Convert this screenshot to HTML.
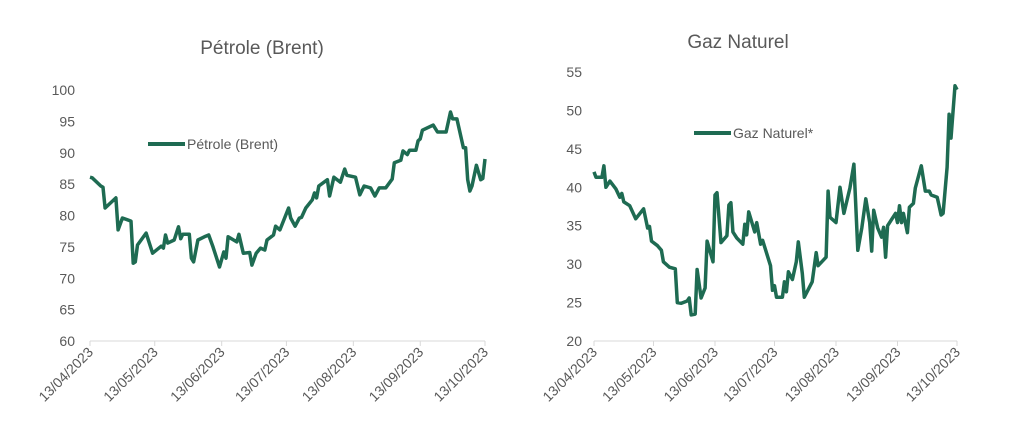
<!DOCTYPE html>
<html><head><meta charset="utf-8"><style>
body{margin:0;background:#fff;width:1018px;height:439px;overflow:hidden;font-family:"Liberation Sans",sans-serif}
svg text{font-family:"Liberation Sans",sans-serif;fill:#595959}
</style></head><body>
<svg id="c" width="1018" height="439"></svg>
<script>
const tickDays=[0,30,61,91,122,153,183];
const tickLabels=["13/04/2023","13/05/2023","13/06/2023","13/07/2023","13/08/2023","13/09/2023","13/10/2023"];
const brentDays=[0,1,5,6,7,12,13,15,19,20,21,22,26,29,33,34,35,36,39,41,42,43,46,47,48,50,53,55,57,60,62,63,64,68,69,71,74,75,77,79,81,82,85,86,88,92,93,95,97,98,100,103,104,105,106,110,111,113,116,118,119,123,125,127,130,132,134,137,140,141,144,145,147,148,151,152,153,154,159,161,165,167,168,170,173,174,175,176,177,179,181,182,183];
const brentVals=[86.1,86,84.7,84.5,81.2,82.8,77.7,79.6,79.1,72.4,72.6,75.3,77.2,74,75.1,74.8,76.9,75.6,76.1,78.2,76.3,77,77,73.2,72.6,76.1,76.6,76.9,75,71.8,74.2,73.2,76.6,75.8,77,74,74.1,72.1,74,74.8,74.5,76.1,76.9,78.3,77.7,81.2,79.6,78.3,79.6,79.7,81.2,82.5,83.6,82.8,84.7,85.7,83.1,86.1,85.3,87.4,86.4,86.1,83.3,84.7,84.4,83.1,84.4,84.4,85.8,88.4,88.8,90.3,89.7,90.4,90.4,91.9,92.2,93.6,94.4,93.3,93.3,96.5,95.4,95.4,90.8,90.8,85.7,83.9,84.7,88,85.7,85.9,89];
const brentTicks=[60,65,70,75,80,85,90,95,100];
const gasDays=[0,1,4,5,6,8,11,13,14,15,18,21,25,27,28,29,32,34,35,38,41,42,44,47,48,49,51,52,54,56,57,60,61,62,64,67,68,69,70,72,75,76,77,78,81,82,84,85,89,90,91,92,95,96,97,98,100,102,103,105,106,110,112,113,117,118,119,122,124,126,129,131,133,135,137,139,140,141,143,145,146,147,148,152,153,154,155,156,158,159,161,162,165,167,169,170,173,174,175,176,178,179,180,182,183];
const gasVals=[42,41.3,41.3,42.8,40,40.8,39.8,38.7,39.2,38.1,37.6,35.9,37.2,34.7,34.9,33,32.4,31.8,30.3,29.6,29.4,25,24.9,25.2,25.6,23.4,23.5,29.3,25.6,26.9,33,30.3,39,39.3,32.8,33.7,37.7,38,34.2,33.4,32.6,35.2,33.8,36.8,34.2,35.4,32.6,33.1,29.8,26.6,27.2,25.7,25.7,27.7,26.4,29,28,30.3,32.9,28.8,25.7,27.7,31.5,29.8,30.9,39.5,36.1,35.4,40,36.6,39.9,43,31.8,34.7,38.5,35.4,31.7,37,34.7,33.5,34.8,30.9,35,36.6,35.4,37.6,35.4,36.6,34.1,37.4,37.9,39.9,42.8,39.5,39.5,39,38.7,37.6,36.4,36.6,42.6,49.5,46.4,53.2,52.7];
const gasTicks=[20,25,30,35,40,45,50,55];

const NS="http://www.w3.org/2000/svg";
const svg=document.getElementById('c');
function mk(tag,attrs,parent){const e=document.createElementNS(NS,tag);for(const k in attrs)e.setAttribute(k,attrs[k]);(parent||svg).appendChild(e);return e;}

function chart(o){
  const g=mk('g',{});
  
  
  const xs=d=>o.x0+(o.x1-o.x0)*d/183;
  const ys=v=>o.yb-(v-o.vmin)/(o.vmax-o.vmin)*(o.yb-o.yt);
  const t=mk('text',{x:o.tx,y:o.ty,'font-size':19,'text-anchor':'middle'},g);
  t.textContent=o.title;
  
  
  o.yticks.forEach(v=>{
    const l=mk('text',{x:o.ylx,y:ys(v)+5,'font-size':14,'text-anchor':'end'},g);
    l.textContent=v;
    
    
  });
  const ax=mk('line',{x1:o.x0,x2:o.x1,y1:o.yb,y2:o.yb,stroke:'#d9d9d9','stroke-width':1},g);
  
  
  tickDays.forEach((d,i)=>{
    const x=xs(d);
    const tk=mk('line',{x1:x,x2:x,y1:o.yb,y2:o.yb+5,stroke:'#d9d9d9'},g);
    
    
    const l=mk('text',{x:x+4,y:o.yb+12,'font-size':14,'text-anchor':'end',transform:`rotate(-45 ${x+4} ${o.yb+12})`},g);
    l.textContent=tickLabels[i];
    
    
  });
  const pts=o.days.map((d,i)=>xs(d).toFixed(1)+','+ys(o.vals[i]).toFixed(1)).join(' ');
  const pl=mk('polyline',{points:pts,fill:'none',stroke:'#1e6b52','stroke-width':3.5,'stroke-linejoin':'round'},g);
  
  
  const lg=mk('g',{},g);
  
  
  mk('line',{x1:o.lx,x2:o.lx+37,y1:o.ly,y2:o.ly,stroke:'#1e6b52','stroke-width':4},lg);
  const lt=mk('text',{x:o.lx+39,y:o.ly+5,'font-size':14},lg);
  lt.textContent=o.legend;
}
chart({name:'brent-chart',title:'Pétrole (Brent)',tx:262,ty:54,x0:90,x1:485,yb:341,yt:90,vmin:60,vmax:100,ylx:75,yticks:brentTicks,days:brentDays,vals:brentVals,legend:'Pétrole (Brent)',lx:148,ly:144});
chart({name:'gas-chart',title:'Gaz Naturel',tx:738,ty:48,x0:594,x1:957,yb:341,yt:72,vmin:20,vmax:55,ylx:582,yticks:gasTicks,days:gasDays,vals:gasVals,legend:'Gaz Naturel*',lx:694,ly:133});
</script>
</body></html>
